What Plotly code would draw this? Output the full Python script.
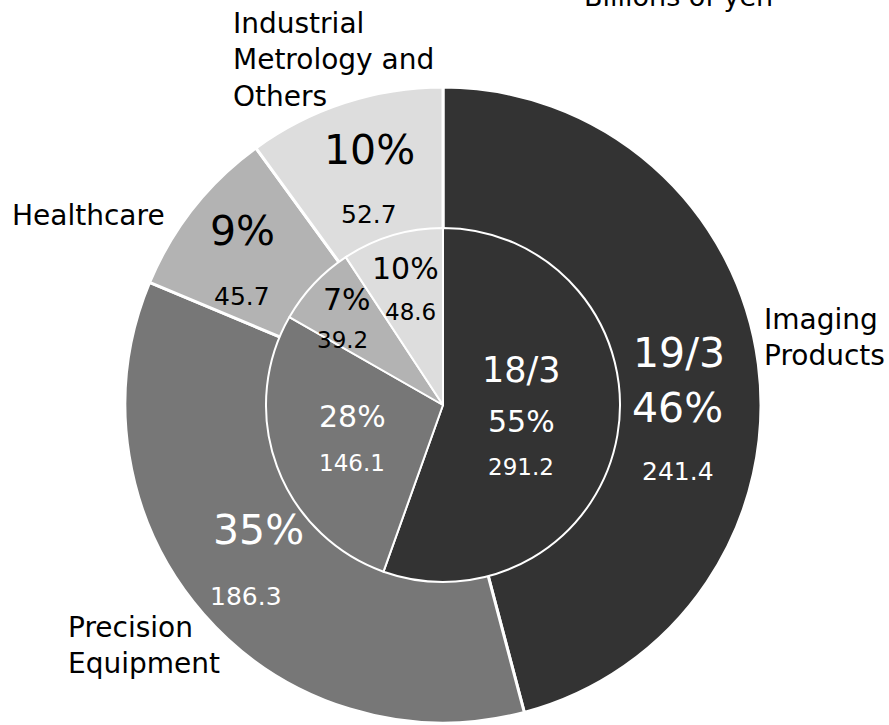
import plotly.graph_objects as go

segments = ["Imaging Products", "Precision Equipment", "Healthcare", "Industrial Metrology and Others"]
colors = ["#333333", "#777777", "#b3b3b3", "#dddddd"]

outer_values = [241.4, 186.3, 45.7, 52.7]   # 19/3
outer_pct = ["46%", "35%", "9%", "10%"]
inner_values = [291.2, 146.1, 39.2, 48.6]   # 18/3
inner_pct = ["55%", "28%", "7%", "10%"]

W, H = 889, 725
cx, cy = 443, 405
R_out, R_in = 318, 177

def dom(r):
    return dict(x=[(cx - r) / W, (cx + r) / W], y=[1 - (cy + r) / H, 1 - (cy - r) / H])

fig = go.Figure()
fig.add_trace(go.Pie(labels=segments, values=outer_values, sort=False, direction="clockwise",
                     rotation=0, domain=dom(R_out), textinfo="none", hoverinfo="label+value",
                     marker=dict(colors=colors, line=dict(color="white", width=3)), showlegend=False))
fig.add_trace(go.Pie(labels=segments, values=inner_values, sort=False, direction="clockwise",
                     rotation=0, domain=dom(R_in), textinfo="none", hoverinfo="label+value",
                     marker=dict(colors=colors, line=dict(color="white", width=2)), showlegend=False))

FONT = "DejaVu Sans"
txtcol = ["white", "white", "black", "black"]

def ann(x, y, text, size, color="black", xanchor="center", align="center"):
    fig.add_annotation(x=x / W, y=1 - y / H, xref="paper", yref="paper", text=text, showarrow=False,
                       xanchor=xanchor, yanchor="middle", align=align,
                       font=dict(family=FONT, size=size, color=color))

# outer ring labels: (pct position, value position)
outer_pos = [((677, 408), (678, 472)), ((258, 530), (246, 596)), ((242, 231), (242, 296)), ((369, 150), (369, 214))]
for i in range(4):
    (px, py), (vx, vy) = outer_pos[i]
    ann(px, py, outer_pct[i], 41, txtcol[i])
    ann(vx, vy, f"{outer_values[i]:.1f}", 25, txtcol[i])
ann(679, 353, "19/3", 41, "white")

inner_pos = [((521, 421), (521, 467)), ((352, 416), (352, 463)), ((347, 299), (342, 340)), ((405, 268), (410, 312))]
for i in range(4):
    (px, py), (vx, vy) = inner_pos[i]
    ann(px, py, inner_pct[i], 30, txtcol[i])
    ann(vx, vy, f"{inner_values[i]:.1f}", 23, txtcol[i])
ann(521, 370, "18/3", 35, "white")

# category labels
ann(231, 60, "Industrial<br>Metrology and<br>Others", 28, xanchor="left", align="left")
ann(10, 216, "Healthcare", 28, xanchor="left", align="left")
ann(762, 337, "Imaging<br>Products", 28, xanchor="left", align="left")
ann(66, 645, "Precision<br>Equipment", 28, xanchor="left", align="left")
ann(678, -4, "Billions of yen", 27)

fig.update_layout(width=W, height=H, margin=dict(l=0, r=0, t=0, b=0),
                  paper_bgcolor="white", plot_bgcolor="white")
fig.write_html("out.html")
